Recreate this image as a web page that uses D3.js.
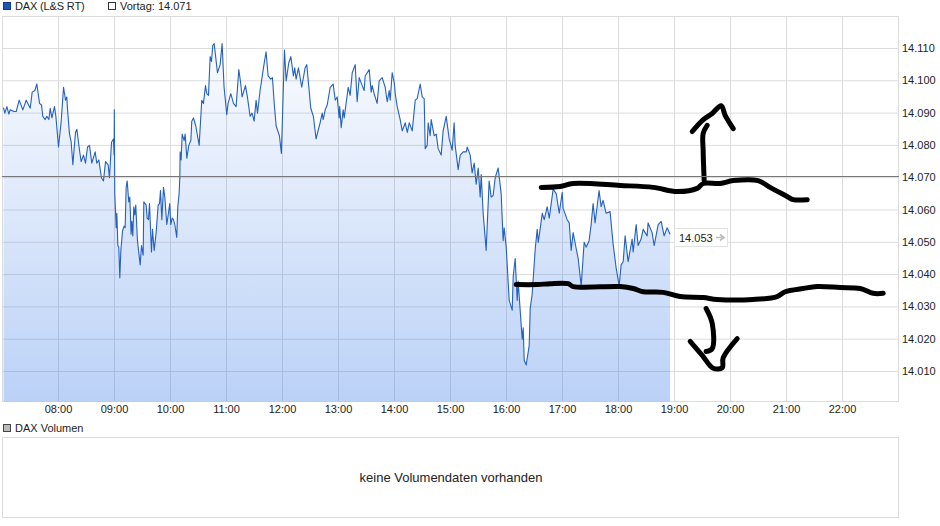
<!DOCTYPE html>
<html><head><meta charset="utf-8">
<script src="https://cdn.jsdelivr.net/npm/d3@7"></script>
<style>
html,body{margin:0;padding:0;background:#fff}
svg{display:block}
text{font-family:"Liberation Sans",Arial,sans-serif;font-size:11px;fill:#222}
</style></head><body>
<svg id="c" width="940" height="526"></svg>
<script>
// minutes after 07:00
const times = [
1.1,2.5,4.7,6.8,8.2,12.5,14.7,17.9,21.8,25.4,
29.7,31.8,34.7,36.8,39.7,41.8,43.2,45.7,47.5,49.7,
51.1,52.9,55.7,57.2,60,62.9,65.4,67.5,68.9,69.7,
71.8,73.6,75.4,78.2,79.7,82.5,84.3,86.8,88.9,91.1,
93.2,95.7,99.3,101,103.2,106,108.2,110.4,113.2,114.6,
116.8,118.9,119.6,119.8,120.3,121.8,122.5,123.6,124.6,125.7,
126.8,128.6,130.3,131.4,132.5,133.6,135.3,136.4,137.8,138.6,
139.6,140.7,141.8,142.8,144.6,147.5,148.9,150.7,151.4,153.9,
155,156.4,157.5,159.6,160.7,162.5,164.6,166.8,168.2,169.3,
170.7,172.5,173.9,176,177.8,179.2,180.3,181.8,183.2,184.6,
186.7,187.8,189.2,190,190.3,191.4,192.5,194.6,195.7,197.5,
199.6,201.8,202.8,204.6,207.1,210.7,213.5,215.3,217.5,218.9,
220.7,222.5,223.9,225.3,226.8,230.3,233.2,235.3,237.4,240.3,
241.7,244.6,247.5,250.3,253.2,255.3,256.7,260.3,262.4,265.3,
267.4,269.6,271.7,273.2,276,279.6,282.4,284.6,287.4,289.2,
291.4,293.2,296.7,298.8,300.3,302.1,303.9,306.7,308.9,311.7,
313.1,314.6,317.1,320.6,324.2,326,330.3,333.1,336,338.5,
340.3,342.5,343.6,345.7,347.9,351.1,354.3,356.5,358.6,360.7,
361.3,362.9,365,366.1,370.4,372.5,374.7,377.9,380,382.2,
385.4,387.5,388.6,392.9,395,396.1,398.2,401.4,403.6,406.8,
410,412.2,414.3,415.4,417.5,419.7,420.8,422.9,426.1,428.3,
431.5,433.7,435.8,439,442.2,444.3,447.5,449.7,451.8,452.9,
455,456.1,458.2,459.3,462.5,464.7,466.8,470,472.1,475.4,
478.6,481.8,483.9,485,488.2,490.4,493.6,496.8,497.9,501.1,
503.2,505.4,507.5,509.7,511.8,512.9,515,518.2,521.4,523.6,
525.7,527.9,531.1,534.3,536.4,537.5,539.7,542.9,546.1,547.2,
549.3,551.5,552.5,556.8,557.9,559,561.1,564.3,565.4,567.5,
570.8,572.9,574,577.2,578.3,580.4,583.6,585.8,590,593.3,
596.5,599.7,600.7,605,607.2,609.3,611.4,614.7,616.8,620,
623.2,625.3,628.5,630.7,632.8,634.9,639.2,641.4,643.5,646.7,
651,654.2,657.5,660.7,662.8,665,667.1,670.3,674.6,675.7,
678.9,681,684.2,686.4,690.7,691.7,696,698.2,702.5,705.7,
708.9,712.1,715.3];
const prices = [
14091.7,14090,14092,14089.7,14091,14090.5,14090.5,14094,14091,14094,
14091.5,14096.5,14097,14099,14093,14092.5,14089,14088,14089,14088,
14091.5,14088.5,14092,14089,14079.5,14087.5,14098,14094,14095,14091,
14083.5,14081,14074,14084,14085,14078.5,14075,14077,14074.5,14079.5,
14080,14074.5,14078,14074.5,14075.5,14070,14069,14075,14074,14070,
14081,14082,14077,14091,14065,14054.5,14059,14049,14048.5,14039,
14047.5,14053.5,14055,14054.5,14067,14069,14062.5,14064,14052.5,14056.5,
14052,14061,14058.5,14061.5,14050.5,14043,14049,14046,14062.5,14061.5,
14057.5,14057,14062,14047,14054,14047.5,14053,14061.5,14062,14066,
14057,14067,14064,14055.5,14059,14062,14055.5,14057.5,14057,14055.5,
14051.5,14061,14065,14070,14078,14075.5,14083.5,14081.5,14083.5,14076,
14080,14081.5,14087.5,14088.5,14086,14080,14094,14093,14098.5,14096,
14095.5,14107.5,14106,14111,14111.5,14102.5,14105,14111.5,14098,14089.5,
14093,14096,14093,14092,14103.5,14099,14095,14098.5,14095,14089,
14090,14087.5,14094,14090,14097,14104,14109,14101.5,14100.5,14101,
14092,14086,14083,14077.5,14092,14109.5,14100,14105.5,14107.5,14101.5,
14104,14100.5,14104,14098,14104,14105,14091.5,14089,14082,14085,
14087,14090,14088,14091,14092.5,14098,14099,14094,14095,14088.5,
14092,14085.5,14091,14088.5,14098,14095.5,14102.5,14105,14093.5,14101,
14098.5,14097,14101.5,14103.5,14096.5,14098.5,14096,14093,14100,14101,
14098,14093.5,14097,14094,14102.5,14099.5,14096,14092,14088,14084.5,
14087,14084,14087,14084.5,14094,14094.5,14099,14095,14094.5,14079,
14080,14087,14083,14088,14083,14083.5,14079,14077,14084.5,14089,
14082,14078.5,14087,14080,14072.5,14077,14078,14078,14079.5,14077,
14071.5,14074.5,14068,14073,14064,14071,14059,14047.5,14069,14064,
14064.5,14070,14073,14065,14050.5,14054.5,14048.5,14032,14029,14039.5,
14045,14032,14038,14020,14023.5,14013.5,14012,14018,14029.5,14034,
14048,14054,14050,14056.5,14059,14057,14061,14057.5,14066.5,14065,
14059,14065.5,14060.5,14057,14056,14047.5,14053,14048,14045,14036.5,
14050,14048.5,14050.5,14055.5,14062,14056,14066,14061,14063,14059,
14059.5,14049.5,14042,14036.5,14043,14044,14052,14044,14051,14047,
14055.5,14049,14051,14054,14052,14056,14053,14049,14055.5,14056.5,
14052,14054.5,14052.5];

const yTicks = [14010,14020,14030,14040,14050,14060,14070,14080,14090,14100,14110];
const xTickHours = [8,9,10,11,12,13,14,15,16,17,18,19,20,21,22];
const previousCloseLevel = 14070.5;
const seriesLabel = "DAX (L&S RT)";
const previousLabel = "Vortag: 14.071";
const lastLabel = "14.053";
const volumeLabel = "DAX Volumen";
const noVolumeLabel = "keine Volumendaten vorhanden";

// hand-drawn marks: [minutes after 07:00, index level]
const upperTrend = [[577.2,14067],[597.5,14067.3],[611.4,14068.2],[661.8,14067.6],[697.2,14067],[722.9,14065.7],[744.3,14066.7],[750.7,14068.2],[769,14068.2],[782.9,14069.1],[809.6,14069.1],[822.5,14067],[840.7,14064.2],[847.2,14063.2],[862.2,14063.2]];
const upShaft = [[751.8,14069.1],[750.7,14078.4],[750.7,14083.7],[755,14086.2]];
const upHead = [[739,14084.3],[749.7,14087.7],[760.4,14089.9],[770,14092.3],[774.3,14089.3],[782.9,14085.2]];
const lowerTrend = [[550.4,14036.9],[572.9,14036.9],[586.8,14037.2],[606.1,14037.2],[611.4,14036.3],[661.8,14036.3],[675.7,14035.7],[686.4,14034.7],[707.9,14034.5],[726.1,14033.2],[750.7,14032.9],[765.7,14032.3],[804.3,14032.3],[830,14033.2],[838.6,14034.7],[857.9,14035.7],[872.9,14036.3],[897.5,14036],[918.9,14035.7],[932.9,14034.2],[943.6,14034.2]];
const downShaft = [[753.9,14029.5],[760.4,14024.9],[760.4,14017.1],[753.9,14016.2]];
const downHead = [[736.8,14019.3],[749.7,14015],[761.5,14011],[771.1,14011.2],[772.2,14014.3],[787.2,14020.2]];

const svg = d3.select("#c");
const L=2,R=898,T=16,B=401;
const x = d3.scaleLinear().domain([0,960]).range([L,R]);
const y = d3.scaleLinear().domain([14010,14110]).range([371,48]);
const data = d3.zip(times,prices);
const grid="#dcdcdc";

const defs = svg.append("defs");
const grad = defs.append("linearGradient").attr("id","g").attr("gradientUnits","userSpaceOnUse")
  .attr("x1",0).attr("x2",0).attr("y1",T).attr("y2",B);
grad.append("stop").attr("offset",0).attr("stop-color","#2f74e6").attr("stop-opacity",0.0);
grad.append("stop").attr("offset",1).attr("stop-color","#2f74e6").attr("stop-opacity",0.33);

const fmt = v => { const s=String(v); return s.slice(0,2)+"."+s.slice(2); };

// grid + axes
const gy = svg.append("g").attr("transform",`translate(${R},0)`)
  .call(d3.axisRight(y).tickValues(yTicks).tickFormat(fmt).tickSize(0).tickPadding(4));
gy.select(".domain").remove();
gy.selectAll("text").style("font-size","11px").style("fill","#222").attr("font-family",null);
const gyL = svg.append("g").attr("transform",`translate(${R},0)`)
  .call(d3.axisLeft(y).tickValues(yTicks).tickFormat("").tickSize(R-L));
gyL.select(".domain").remove();
gyL.selectAll("line").attr("stroke",grid);

const hourMin = xTickHours.map(h=>(h-7)*60);
const gx = svg.append("g").attr("transform",`translate(0,${B})`)
  .call(d3.axisBottom(x).tickValues(hourMin).tickFormat(m=>String(m/60+7).padStart(2,"0")+":00").tickSize(0).tickPadding(4));
gx.select(".domain").remove();
gx.selectAll("text").style("font-size","11px").style("fill","#222");
const gxT = svg.append("g").attr("transform",`translate(0,${B})`)
  .call(d3.axisTop(x).tickValues(hourMin).tickFormat("").tickSize(B-T));
gxT.select(".domain").remove();
gxT.selectAll("line").attr("stroke",grid);

svg.append("rect").attr("x",L+.5).attr("y",T+.5).attr("width",R-L).attr("height",B-T)
  .attr("fill","none").attr("stroke",grid);

// marks
const plot = svg.append("g").attr("transform","translate(0.5,0.5)");
plot.append("path").datum(data)
  .attr("fill","url(#g)")
  .attr("d",d3.area().x(d=>x(d[0])).y0(B).y1(d=>y(d[1])));
plot.append("path").datum(data)
  .attr("fill","none").attr("stroke","#2460bd").attr("stroke-width",1.1).attr("stroke-linejoin","round")
  .attr("d",d3.line().x(d=>x(d[0])).y(d=>y(d[1])));
svg.append("line").attr("x1",L).attr("x2",R+1)
  .attr("y1",Math.round(y(previousCloseLevel))+.5).attr("y2",Math.round(y(previousCloseLevel))+.5)
  .attr("stroke","#777").attr("stroke-width",1);

// last value tag
const lastX = x(times[times.length-1]), lastY = y(prices[prices.length-1]);
const tag = svg.append("g").attr("transform",`translate(${Math.round(lastX)+4},${Math.round(lastY)+4})`);
tag.append("rect").attr("x",.5).attr("y",-9.5).attr("width",53).attr("height",18).attr("fill","#fff").attr("stroke","#e2e2e2");
tag.append("text").attr("x",5).attr("y",4).text(lastLabel);
tag.append("path").attr("d","M42 -.5H48M46 -3.5L50 -.5L46 2.5").attr("fill","none").attr("stroke","#bbb").attr("stroke-width",1.6);

// hand-drawn strokes
const pen = d3.line().x(d=>x(d[0])).y(d=>y(d[1])).curve(d3.curveCatmullRom.alpha(.5));
plot.selectAll("path.pen").data([upperTrend,upShaft,upHead,lowerTrend,downShaft,downHead]).join("path")
  .attr("class","pen").attr("fill","none").attr("stroke","#000").attr("stroke-width",5)
  .attr("stroke-linecap","round").attr("stroke-linejoin","round").attr("d",pen);

// legends
svg.append("rect").attr("x",3.5).attr("y",2.5).attr("width",7).attr("height",7).attr("fill","#1b55b8").attr("stroke","#123a80");
svg.append("text").attr("x",15).attr("y",10).style("letter-spacing","-0.15px").text(seriesLabel);
svg.append("rect").attr("x",108.5).attr("y",2.5).attr("width",7).attr("height",7).attr("fill","#fff").attr("stroke","#333");
svg.append("text").attr("x",120).attr("y",10).text(previousLabel);
svg.append("rect").attr("x",3.5).attr("y",424.5).attr("width",7).attr("height",7).attr("fill","#bbb").attr("stroke","#444");
svg.append("text").attr("x",15).attr("y",432).text(volumeLabel);

// volume panel
svg.append("rect").attr("x",L+.5).attr("y",437.5).attr("width",R-L).attr("height",80).attr("fill","#fff").attr("stroke",grid);
svg.append("text").attr("x",(L+R)/2+1).attr("y",482).attr("text-anchor","middle").style("font-size","13px").text(noVolumeLabel);
</script>
</body></html>
